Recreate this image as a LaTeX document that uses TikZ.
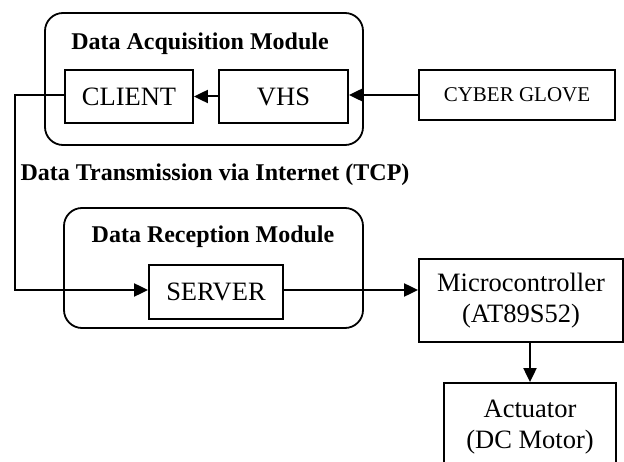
\documentclass[tikz,border=0pt]{standalone}
\usepackage{fontspec}
\setmainfont{Liberation Serif}
\usetikzlibrary{arrows.meta}
\begin{document}
\begin{tikzpicture}[x=1pt,y=-1pt,
  box/.style={draw,line width=1.8pt,inner sep=0pt,align=center,
    font=\fontsize{26.5}{31}\selectfont},
  module/.style={draw,line width=1.8pt,rounded corners=18pt,inner sep=0pt},
  title/.style={font=\fontsize{24}{28}\selectfont\bfseries,inner sep=0pt},
  link/.style={line width=2pt,-{Triangle[length=14pt,width=13pt]}}]
\useasboundingbox (0,0) rectangle (624,462);
\clip (0,0) rectangle (624,462);

% acquisition side
\node[module,minimum width=318pt,minimum height=132pt] (acq) at (204,79) {};
\node[title] (acqtitle) at (200,44) {Data Acquisition Module};
\node[box,minimum width=128pt,minimum height=53pt] (client) at (129,96.5) {CLIENT};
\node[box,minimum width=129pt,minimum height=53pt] (vhs) at (283.5,96.5) {VHS};
\node[box,minimum width=196pt,minimum height=50pt,
  font=\fontsize{21}{25}\selectfont] (glove) at (517,95) {CYBER GLOVE};

% network link
\node[title] (tcp) at (215,175) {Data Transmission via Internet (TCP)};

% reception side
\node[module,minimum width=299pt,minimum height=120pt] (rec) at (213.5,268) {};
\node[title] (rectitle) at (213,237) {Data Reception Module};
\node[box,minimum width=134pt,minimum height=54pt] (server) at (216,292) {SERVER};
\node[box,minimum width=204pt,minimum height=83pt] (micro) at (521,300.5)
  {Microcontroller\\(AT89S52)};
\node[box,minimum width=172pt,minimum height=88pt] (act) at (530,427)
  {Actuator\\(DC Motor)};

\coordinate (bendtop) at (15,95);
\coordinate (bendbot) at (15,290);

% connectors
\draw[link] (glove.west) -- (vhs.east |- glove.west);
\draw[link] (vhs.west) -- (client.east);
\draw[link] (client.west |- bendtop) -- (bendtop) -- (bendbot) -- (server.west |- bendbot);
\draw[link] (server.east |- bendbot) -- (micro.west |- bendbot);
\draw[link] (act.north |- micro.south) -- (act.north);
\end{tikzpicture}
\end{document}
